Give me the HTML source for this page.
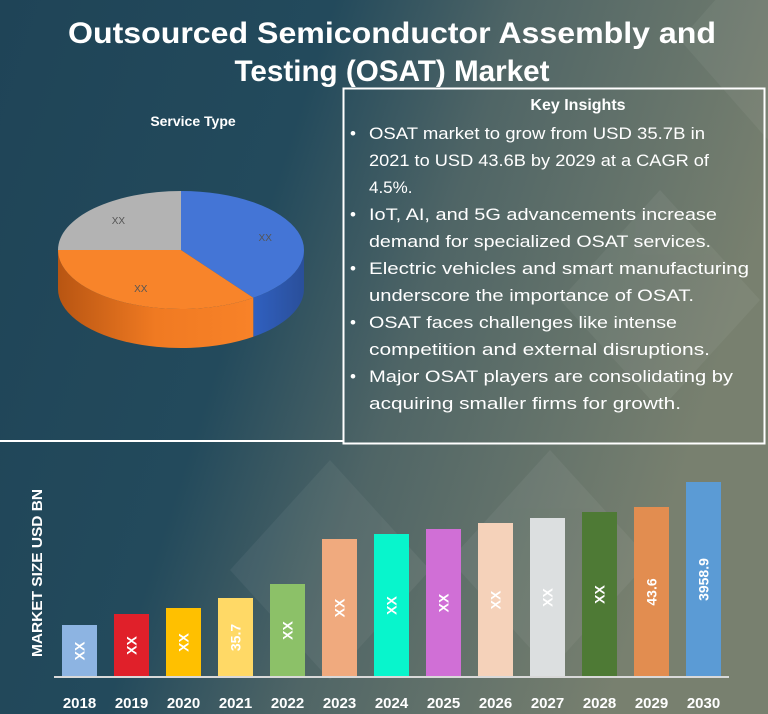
<!DOCTYPE html>
<html><head><meta charset="utf-8"><style>
html,body{margin:0;padding:0;width:768px;height:714px;overflow:hidden;background:#1f4357}
svg{display:block}
text{font-family:"Liberation Sans",sans-serif}
</style></head><body>
<svg width="768" height="714" viewBox="0 0 768 714">
<defs>
<linearGradient id="bg" x1="0" y1="0" x2="1" y2="0.3">
<stop offset="0" stop-color="#1f4457"/><stop offset="0.4" stop-color="#234a5c"/><stop offset="0.62" stop-color="#4f6566"/><stop offset="1" stop-color="#78806f"/>
</linearGradient>
<linearGradient id="orSide" x1="0" x2="1"><stop offset="0" stop-color="#b85512"/><stop offset="0.5" stop-color="#f07a22"/><stop offset="1" stop-color="#f88228"/></linearGradient>
<linearGradient id="blSide" x1="0" x2="1"><stop offset="0" stop-color="#3060c0"/><stop offset="1" stop-color="#2a4f9a"/></linearGradient>
</defs>
<rect width="768" height="714" fill="url(#bg)"/>
<g opacity="0.05" fill="#fff">
<polygon points="230,570 330,460 430,570 330,680"/><polygon points="560,300 660,190 760,300 660,410"/><polygon points="450,560 550,450 650,560 550,670"/><polygon points="680,40 768,-60 768,140"/>
</g>
<text x="392" y="43" fill="#fff" font-size="30" font-weight="bold" text-anchor="middle" textLength="648" lengthAdjust="spacingAndGlyphs">Outsourced Semiconductor Assembly and</text>
<text x="392" y="81" fill="#fff" font-size="30" font-weight="bold" text-anchor="middle" textLength="315" lengthAdjust="spacingAndGlyphs">Testing (OSAT) Market</text>

<text x="193" y="126" fill="#fff" font-size="14" font-weight="bold" text-anchor="middle">Service Type</text>
<g id="pie"></g>

<rect x="343.5" y="88.5" width="421" height="355" fill="none" stroke="#fff" stroke-width="2"/>
<line x1="0" y1="441" x2="343" y2="441" stroke="#fff" stroke-width="2"/>
<text x="578" y="110" fill="#fff" font-size="16" font-weight="bold" text-anchor="middle">Key Insights</text>
<g fill="#fff" font-size="17">
<g>
<text x="350" y="139">•</text>
<text x="369" y="139" textLength="336" lengthAdjust="spacingAndGlyphs">OSAT market to grow from USD 35.7B in</text>
<text x="369" y="166" textLength="340" lengthAdjust="spacingAndGlyphs">2021 to USD 43.6B by 2029 at a CAGR of</text>
<text x="369" y="193">4.5%.</text></g>
<g>
<text x="350" y="220">•</text>
<text x="369" y="220" textLength="348" lengthAdjust="spacingAndGlyphs">IoT, AI, and 5G advancements increase</text>
<text x="369" y="247" textLength="342" lengthAdjust="spacingAndGlyphs">demand for specialized OSAT services.</text></g>
<g>
<text x="350" y="274">•</text>
<text x="369" y="274" textLength="380" lengthAdjust="spacingAndGlyphs">Electric vehicles and smart manufacturing</text>
<text x="369" y="301" textLength="325" lengthAdjust="spacingAndGlyphs">underscore the importance of OSAT.</text></g>
<g>
<text x="350" y="328">•</text>
<text x="369" y="328" textLength="308" lengthAdjust="spacingAndGlyphs">OSAT faces challenges like intense</text>
<text x="369" y="355" textLength="341" lengthAdjust="spacingAndGlyphs">competition and external disruptions.</text></g>
<g>
<text x="350" y="382">•</text>
<text x="369" y="382" textLength="364" lengthAdjust="spacingAndGlyphs">Major OSAT players are consolidating by</text>
<text x="369" y="409" textLength="312" lengthAdjust="spacingAndGlyphs">acquiring smaller firms for growth.</text></g>
</g>

<text transform="translate(42,573) rotate(-90)" fill="#fff" font-size="15" font-weight="bold" text-anchor="middle" textLength="168" lengthAdjust="spacingAndGlyphs">MARKET SIZE USD BN</text>
<g id="bars"></g>
<line x1="54" y1="677" x2="729" y2="677" stroke="#d9d9d9" stroke-width="2"/>
</svg>
<script>
const years=["2018","2019","2020","2021","2022","2023","2024","2025","2026","2027","2028","2029","2030"];
const values=[26,31.5,34.5,39.5,46.5,69,71.5,74,77,79.5,82.5,85,97.5];
const barLabels=["XX","XX","XX","35.7","XX","XX","XX","XX","XX","XX","XX","43.6","3958.9"];
const barColors=["#8db4e2","#e0202a","#ffc000","#ffd966","#8cc168","#f0aa7e","#08f5cc","#d06fd6","#f5d2ba","#dcdfe0","#4e7a35","#e28d50","#5b9bd5"];
const pieCategories=["Blue segment","Orange segment","Grey segment"];
const pieValues=[40,35,25];
const pieLabels=["XX","XX","XX"];
const NS="http://www.w3.org/2000/svg";
function mk(tag,attrs,parent){const e=document.createElementNS(NS,tag);for(const k in attrs)e.setAttribute(k,attrs[k]);parent.appendChild(e);return e;}
const bg=document.getElementById('bars');
const base=677,x0=62,step=52,bw=35;
const yScale=v=>v*2;
const xScale=i=>x0+i*step;
years.forEach((y,i)=>{
  const h=yScale(values[i]);const x=xScale(i);
  const r=mk('rect',{x:x,y:base-h,width:bw,height:h,fill:barColors[i]},bg);
  
  
  const cx=x+bw/2,cy=base-h/2;
  const t=mk('text',{x:cx,y:cy+5,fill:'#fff','font-size':14,'font-weight':'bold','text-anchor':'middle',transform:`rotate(-90 ${cx} ${cy})`},bg);
  t.textContent=barLabels[i];
  
  
  const yl=mk('text',{x:cx,y:708,fill:'#fff','font-size':15,'font-weight':'bold','text-anchor':'middle'},bg);
  yl.textContent=y;
  
  
});
const pg=document.getElementById('pie');
const cx=181,cy=250,rx=123,ry=59,depth=39;
const topCol=["#4475d6","#f8842a","#b3b3b3"];
const sideCol=["url(#blSide)","url(#orSide)","#8a8a8a"];
const tot=pieValues.reduce((a,b)=>a+b,0);
const P=a=>[cx+rx*Math.cos(a),cy+ry*Math.sin(a)];
let a=-Math.PI/2;const angs=[];
pieValues.forEach(v=>{const b=a+v/tot*2*Math.PI;angs.push([a,b]);a=b;});
angs.forEach(([s,e],i)=>{
  const ss=Math.max(s,0),ee=Math.min(e,Math.PI);
  if(ee<=ss)return;
  const p1=P(ss),p2=P(ee);
  const d=`M${p1[0]},${p1[1]} A${rx},${ry} 0 0 1 ${p2[0]},${p2[1]} L${p2[0]},${p2[1]+depth} A${rx},${ry} 0 0 0 ${p1[0]},${p1[1]+depth} Z`;
  const p=mk('path',{d:d,fill:sideCol[i]},pg);
  
  
});
angs.forEach(([s,e],i)=>{
  const p1=P(s),p2=P(e);const large=(e-s)>Math.PI?1:0;
  const p=mk('path',{d:`M${cx},${cy} L${p1[0]},${p1[1]} A${rx},${ry} 0 ${large} 1 ${p2[0]},${p2[1]} Z`,fill:topCol[i]},pg);
  
  
  const m=(s+e)/2;const lx=cx+rx*0.72*Math.cos(m),ly=cy+ry*0.72*Math.sin(m);
  const t=mk('text',{x:lx,y:ly+4,fill:'#555','font-size':10,'text-anchor':'middle'},pg);
  t.textContent=pieLabels[i];
  
  
});
</script>
</body></html>
